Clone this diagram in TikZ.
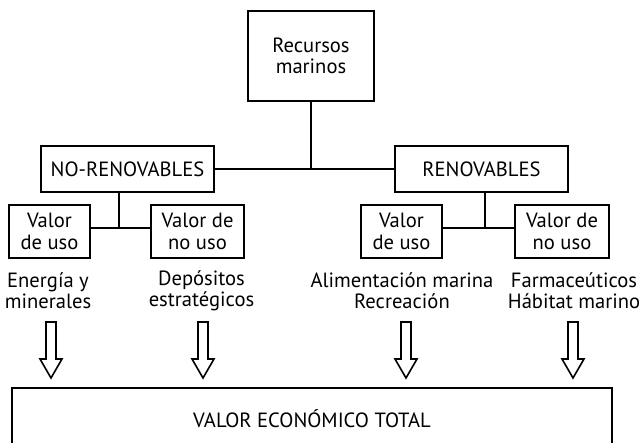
\documentclass[tikz,border=0pt]{standalone}
\usepackage{fontspec}
\setmainfont{PT Sans}
\usetikzlibrary{calc}

\begin{document}
\begin{tikzpicture}[x=0.5pt,y=-0.5pt,
	every node/.style={align=center, font=\fontsize{10.3}{10.6}\selectfont},
	caja/.style={draw, line width=0.9pt, inner sep=0pt},
	linea/.style={line width=0.9pt}]
	\useasboundingbox (0,0) rectangle (642,443);

	\node [caja, minimum width=63pt, minimum height=45pt] (recursos) at (311,56) {Recursos\\marinos};
	\node [caja, minimum width=86.5pt, minimum height=23pt] (norenov) at (127.5,169) {NO-RENOVABLES};
	\node [caja, minimum width=86.5pt, minimum height=23pt] (renov) at (481.5,169) {RENOVABLES};

	\node [caja, minimum width=40.5pt, minimum height=26.5pt] (usoA) at (49.5,231.5) {Valor\\de uso};
	\node [caja, minimum width=46.5pt, minimum height=26.5pt] (nousoA) at (197.5,231.5) {Valor de\\no uso};
	\node [caja, minimum width=40.5pt, minimum height=26.5pt] (usoB) at (401.5,231.5) {Valor\\de uso};
	\node [caja, minimum width=47pt, minimum height=26.5pt] (nousoB) at (562,231.5) {Valor de\\no uso};

	\coordinate (juntaA) at (119,228);
	\coordinate (juntaB) at (485,228);

	\draw [linea] (norenov.east) -- (renov.west);
	\draw [linea] (recursos.south) -- (recursos.south |- norenov.east);
	\draw [linea] (norenov.south -| juntaA) -- (juntaA);
	\draw [linea] (usoA.east |- juntaA) -- (nousoA.west |- juntaA);
	\draw [linea] (renov.south -| juntaB) -- (juntaB);
	\draw [linea] (usoB.east |- juntaB) -- (nousoB.west |- juntaB);

	\node (energia) at (48,291) {Energía y\\minerales};
	\node (depositos) at (201.5,291) {Depósitos\\estratégicos};
	\node (alimento) at (402,291) {Alimentación marina\\Recreación};
	\node (farma) at (574,291) {Farmaceúticos\\Hábitat marino};

	\foreach \x in {51,203,406,573}
	   \draw [line width=0.8pt] (\x-5,322) -- (\x+5,322) -- (\x+5,359) -- (\x+11,359)
	      -- (\x,378) -- (\x-11,359) -- (\x-5,359) -- cycle;

	\draw [linea] (12,450) -- (12,388) -- (612,388) -- (612,450);
	\node (total) at (312,419) {VALOR ECONÓMICO TOTAL};
\end{tikzpicture}
\end{document}
